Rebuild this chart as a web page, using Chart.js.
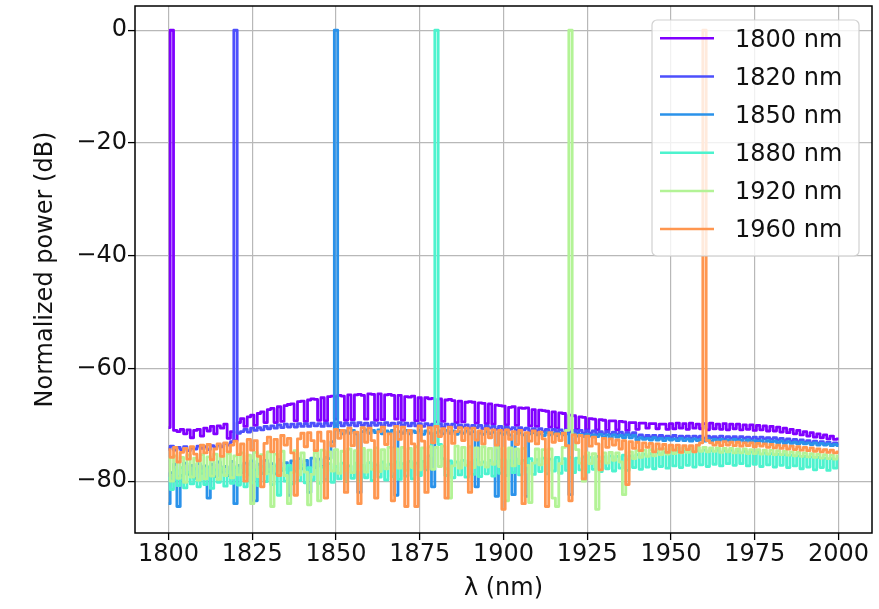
<!DOCTYPE html>
<html><head><meta charset="utf-8">
<script src="https://cdn.jsdelivr.net/npm/chart.js@4.4.1/dist/chart.umd.min.js"></script>
<style>html,body{margin:0;padding:0;background:#fff;}#wrap{width:879px;height:609px;}</style>
</head><body><div id="wrap"><canvas id="c" width="879" height="609"></canvas></div>
<script>
const wavelengths = [
1800,1801,1802,1803,1804,1805,1806,1807,1808,1809,
1810,1811,1812,1813,1814,1815,1816,1817,1818,1819,
1820,1821,1822,1823,1824,1825,1826,1827,1828,1829,
1830,1831,1832,1833,1834,1835,1836,1837,1838,1839,
1840,1841,1842,1843,1844,1845,1846,1847,1848,1849,
1850,1851,1852,1853,1854,1855,1856,1857,1858,1859,
1860,1861,1862,1863,1864,1865,1866,1867,1868,1869,
1870,1871,1872,1873,1874,1875,1876,1877,1878,1879,
1880,1881,1882,1883,1884,1885,1886,1887,1888,1889,
1890,1891,1892,1893,1894,1895,1896,1897,1898,1899,
1900,1901,1902,1903,1904,1905,1906,1907,1908,1909,
1910,1911,1912,1913,1914,1915,1916,1917,1918,1919,
1920,1921,1922,1923,1924,1925,1926,1927,1928,1929,
1930,1931,1932,1933,1934,1935,1936,1937,1938,1939,
1940,1941,1942,1943,1944,1945,1946,1947,1948,1949,
1950,1951,1952,1953,1954,1955,1956,1957,1958,1959,
1960,1961,1962,1963,1964,1965,1966,1967,1968,1969,
1970,1971,1972,1973,1974,1975,1976,1977,1978,1979,
1980,1981,1982,1983,1984,1985,1986,1987,1988,1989,
1990,1991,1992,1993,1994,1995,1996,1997,1998,1999,
2000];

const seriesLabels = ['1800 nm','1820 nm','1850 nm','1880 nm','1920 nm','1960 nm'];

const power1800 = [
-70.5,0,-71.0,-71.2,-70.8,-71.6,-70.9,-72.3,-71.0,-70.8,
-72.0,-70.6,-71.1,-70.3,-71.6,-70.2,-70.6,-69.9,-72.4,-71.2,
-72.8,-69.6,-68.9,-70.3,-68.6,-68.3,-70.1,-68.0,-67.7,-69.6,
-67.3,-67.1,-69.6,-66.8,-69.4,-66.6,-66.4,-66.3,-69.3,-65.9,
-65.8,-69.4,-65.6,-65.4,-65.5,-69.2,-65.2,-69.3,-65.0,-64.9,
-69.0,-64.8,-64.9,-69.2,-64.7,-69.1,-64.7,-64.6,-64.8,-69.0,
-64.5,-64.6,-69.2,-64.5,-69.1,-64.7,-64.6,-64.8,-69.0,-64.8,
-69.2,-65.0,-65.1,-64.9,-69.3,-65.2,-69.2,-65.2,-65.4,-65.3,
-69.5,-65.4,-69.4,-65.6,-65.5,-65.7,-69.6,-65.8,-69.5,-66.0,
-65.9,-66.0,-69.7,-66.1,-66.2,-69.8,-66.3,-69.9,-66.5,-66.6,
-66.7,-70.0,-66.9,-66.8,-70.1,-67.0,-67.1,-67.0,-70.2,-67.3,
-70.3,-67.4,-67.5,-67.6,-70.4,-67.7,-70.6,-67.9,-68.0,-71.2,
-68.3,-68.4,-70.8,-68.6,-68.7,-70.9,-68.9,-69.0,-70.9,-69.1,
-69.2,-71.0,-69.3,-69.3,-70.9,-69.4,-69.5,-71.0,-69.6,-69.6,
-70.8,-69.7,-69.7,-70.6,-69.8,-69.8,-70.7,-69.9,-69.9,-70.8,
-69.8,-70.7,-69.7,-70.6,-69.8,-70.8,-69.7,-70.6,-69.9,-70.7,
-69.8,-70.9,-69.7,-70.7,-69.9,-70.8,-69.8,-70.9,-69.9,-70.7,
-69.9,-70.9,-70.0,-70.8,-70.0,-71.0,-70.1,-70.9,-70.2,-71.1,
-70.3,-71.1,-70.4,-71.3,-70.6,-71.4,-70.8,-71.6,-71.0,-71.8,
-71.2,-72.0,-71.4,-72.2,-71.6,-72.3,-71.8,-72.5,-72.0,-72.6,
-72.5];

const power1820 = [
-74.3,-73.8,-74.5,-74.0,-74.4,-73.9,-74.6,-74.1,-74.3,-73.8,
-74.2,-73.9,-74.4,-73.7,-74.0,-73.6,-73.9,-73.3,-73.6,-73.0,
0,-71.5,-71.2,-70.8,-71.3,-70.6,-71.0,-70.5,-70.9,-70.3,
-70.7,-70.2,-70.6,-70.0,-70.5,-69.9,-70.4,-69.9,-70.4,-69.8,
-70.3,-69.8,-70.3,-69.7,-70.2,-69.8,-70.3,-69.7,-70.2,-69.7,
-70.2,-69.6,-70.2,-69.7,-70.1,-69.6,-70.2,-69.6,-70.1,-69.7,
-70.2,-69.6,-70.1,-69.7,-70.2,-69.6,-70.1,-69.7,-70.2,-69.6,
-70.1,-69.7,-70.2,-69.7,-70.2,-69.8,-70.3,-69.8,-70.2,-69.9,
-70.3,-69.8,-70.4,-69.9,-70.3,-69.9,-70.5,-70.0,-70.4,-70.0,
-70.6,-70.1,-70.5,-70.1,-70.7,-70.2,-70.6,-70.3,-70.8,-70.3,
-70.9,-70.4,-70.8,-70.5,-71.0,-70.5,-70.9,-70.6,-71.1,-70.7,
-71.1,-70.7,-71.2,-70.8,-71.3,-70.8,-71.2,-70.9,-71.4,-70.9,
-71.3,-71.0,-71.4,-71.0,-71.5,-71.1,-71.5,-71.1,-71.6,-71.2,
-71.6,-71.2,-71.7,-71.3,-71.7,-71.3,-71.8,-71.4,-71.8,-71.4,
-72.2,-71.8,-72.3,-71.9,-72.2,-71.9,-72.3,-71.9,-72.3,-72.0,
-72.3,-71.9,-72.4,-72.0,-72.3,-72.0,-72.4,-72.0,-72.3,-72.0,
-72.4,-72.0,-72.3,-72.1,-72.4,-72.0,-72.5,-72.1,-72.4,-72.1,
-72.5,-72.1,-72.4,-72.2,-72.5,-72.2,-72.6,-72.2,-72.5,-72.3,
-72.6,-72.3,-72.7,-72.4,-72.8,-72.5,-72.9,-72.6,-73.0,-72.7,
-73.1,-72.8,-73.2,-72.9,-73.3,-73.0,-73.4,-73.1,-73.5,-73.2,
-73.4];

const power1850 = [
-84.0,-78.5,-77.0,-84.5,-79.0,-76.8,-78.8,-77.2,-79.5,-76.9,
-78.6,-77.3,-83.0,-77.0,-79.2,-76.6,-78.4,-77.4,-79.0,-76.5,
-84.0,-77.2,-78.5,-76.8,-78.9,-76.4,-83.5,-77.0,-78.6,-76.3,
-78.3,-76.9,-78.7,-76.2,-78.1,-76.7,-82.5,-76.4,-78.2,-76.0,
-77.8,-76.3,-82.0,-75.9,-77.6,-76.1,-77.4,-75.8,-76.0,-73.0,
0,-71.0,-71.6,-71.1,-71.5,-71.0,-71.6,-82.0,-71.2,-70.9,
-71.5,-71.0,-71.4,-70.9,-71.6,-71.1,-71.4,-71.0,-82.5,-71.2,
-71.5,-71.0,-71.6,-71.1,-71.4,-71.0,-71.7,-71.1,-71.5,-81.0,
-71.4,-71.1,-71.6,-71.0,-71.5,-71.1,-71.7,-71.2,-71.5,-71.1,
-71.6,-71.2,-81.0,-71.3,-71.7,-71.2,-71.6,-71.3,-82.7,-71.4,
-71.7,-71.3,-71.8,-82.4,-71.5,-71.4,-71.8,-82.7,-71.6,-71.4,
-71.8,-71.5,-71.9,-71.4,-71.8,-71.5,-71.9,-71.5,-71.8,-71.6,
-82.4,-71.6,-72.0,-71.7,-72.1,-71.7,-72.0,-71.8,-72.1,-71.7,
-72.2,-71.8,-72.3,-71.8,-72.2,-71.9,-72.3,-71.8,-72.3,-71.9,
-72.7,-72.3,-72.6,-72.4,-72.7,-72.3,-72.7,-72.4,-72.8,-72.4,
-72.7,-72.5,-72.8,-72.4,-72.8,-72.5,-72.9,-72.5,-72.8,-72.6,
-72.9,-72.5,-72.9,-72.6,-73.0,-72.6,-72.9,-72.7,-73.0,-72.6,
-73.0,-72.7,-73.1,-72.7,-73.0,-72.8,-73.1,-72.8,-73.2,-72.8,
-73.1,-72.9,-73.2,-72.9,-73.3,-73.0,-73.3,-73.1,-73.4,-73.1,
-73.4,-73.2,-73.5,-73.2,-73.6,-73.3,-73.6,-73.4,-73.7,-73.5,
-73.7];

const power1880 = [
-79.5,-81.5,-78.0,-80.8,-77.6,-81.2,-78.4,-80.5,-77.8,-81.0,
-78.2,-80.6,-77.5,-81.3,-78.0,-80.2,-77.7,-80.9,-78.3,-80.4,
-77.6,-80.7,-78.1,-81.0,-77.5,-80.3,-78.0,-80.8,-77.4,-80.1,
-77.9,-80.6,-77.3,-82.5,-77.8,-80.0,-77.2,-80.5,-77.7,-79.9,
-77.1,-80.3,-77.6,-79.8,-77.0,-80.4,-77.5,-79.7,-76.9,-80.2,
-77.4,-79.6,-76.8,-80.1,-77.3,-79.5,-76.8,-80.0,-77.2,-79.4,
-76.7,-79.9,-77.1,-79.3,-76.6,-79.8,-77.0,-79.2,-76.6,-79.7,
-76.9,-79.1,-76.5,-79.6,-76.8,-79.0,-76.5,-78.0,-75.5,-73.0,
0,-73.5,-76.0,-79.0,-76.4,-79.4,-76.6,-78.9,-76.3,-79.3,
-76.7,-78.8,-76.2,-79.2,-76.6,-78.7,-76.3,-79.1,-76.5,-78.6,
-76.2,-79.0,-76.4,-78.5,-76.1,-78.9,-76.3,-78.4,-76.0,-78.8,
-76.2,-78.3,-75.9,-78.7,-76.1,-78.2,-75.8,-78.6,-76.0,-78.1,
-75.8,-78.5,-75.9,-78.0,-75.7,-78.4,-75.8,-77.9,-75.6,-78.3,
-75.7,-77.8,-75.5,-78.2,-75.6,-77.7,-75.4,-78.1,-75.5,-77.6,
-75.3,-77.9,-75.2,-77.5,-75.1,-77.8,-75.0,-77.4,-74.9,-77.7,
-74.8,-77.3,-74.7,-77.6,-74.7,-77.2,-74.6,-77.5,-74.6,-77.1,
-74.5,-77.4,-74.6,-77.0,-74.5,-77.3,-74.6,-76.9,-74.5,-77.2,
-74.6,-76.9,-74.7,-77.3,-74.8,-77.0,-74.9,-77.4,-75.0,-77.1,
-75.1,-77.5,-75.2,-77.2,-75.3,-77.6,-75.4,-77.3,-75.5,-77.8,
-75.6,-77.5,-75.7,-78.0,-75.8,-77.6,-75.9,-78.1,-76.0,-77.7,
-76.2];

const power1920 = [
-76.0,-80.0,-75.5,-79.5,-75.8,-80.2,-75.4,-79.3,-75.9,-79.8,
-75.3,-79.6,-75.7,-79.1,-75.2,-79.7,-75.6,-79.0,-75.1,-79.4,
-75.5,-78.9,-75.0,-79.3,-75.4,-84.0,-74.9,-79.2,-75.3,-78.7,
-74.8,-84.5,-75.2,-78.6,-74.7,-79.0,-84.0,-78.5,-74.6,-78.9,
-75.0,-78.4,-84.2,-78.8,-74.9,-83.5,-74.5,-78.7,-74.8,-78.2,
-74.4,-78.6,-74.7,-78.1,-74.3,-78.5,-74.6,-78.0,-74.2,-78.4,
-74.5,-77.9,-74.1,-78.3,-74.4,-77.8,-74.0,-78.2,-74.3,-77.7,
-74.0,-78.1,-74.2,-77.6,-73.9,-78.0,-74.1,-77.5,-73.9,-77.9,
-74.0,-77.4,-73.8,-77.8,-83.0,-77.3,-73.8,-77.7,-74.0,-77.2,
-73.9,-77.6,-74.1,-77.1,-73.9,-77.5,-74.2,-77.0,-74.0,-77.4,
-74.2,-83.5,-74.1,-77.3,-74.3,-76.9,-74.2,-77.2,-83.8,-76.8,
-74.3,-77.1,-74.4,-76.7,-74.3,-83.0,-84.5,-76.9,-74.0,-71.0,
0,-72.0,-74.4,-76.8,-80.0,-75.0,-76.9,-75.1,-85.0,-76.5,
-75.0,-76.8,-74.9,-76.3,-75.0,-76.6,-82.4,-76.2,-74.8,-76.0,
-74.6,-75.8,-74.5,-75.6,-74.4,-75.5,-74.4,-75.3,-74.3,-75.2,
-74.2,-75.1,-74.2,-75.0,-74.1,-74.9,-74.1,-74.8,-74.0,-74.7,
-74.0,-74.8,-74.1,-74.7,-74.1,-74.9,-74.2,-74.8,-74.2,-75.0,
-74.3,-75.0,-74.3,-75.1,-74.4,-75.1,-74.4,-75.2,-74.5,-75.2,
-74.5,-75.3,-74.6,-75.3,-74.7,-75.4,-74.8,-75.5,-74.9,-75.6,
-75.0,-75.7,-75.1,-75.8,-75.2,-75.9,-75.3,-76.0,-75.4,-76.1,
-75.5];

const power1960 = [
-74.4,-75.8,-74.0,-76.6,-74.9,-74.2,-76.1,-73.9,-75.2,-76.4,
-73.6,-75.0,-73.5,-76.2,-74.3,-73.4,-75.6,-73.2,-74.8,-73.6,
-72.9,-75.3,-73.4,-80.0,-72.6,-74.5,-72.8,-75.6,-81.0,-73.3,
-72.2,-74.8,-72.6,-79.0,-71.9,-73.6,-72.4,-75.0,-82.5,-72.5,
-71.5,-73.9,-71.4,-72.8,-74.6,-71.3,-72.9,-83.0,-71.2,-73.8,
-70.8,-72.4,-71.0,-82.0,-70.6,-73.7,-71.3,-84.0,-70.5,-73.1,
-70.6,-72.8,-83.0,-71.2,-70.4,-73.5,-71.6,-83.5,-70.3,-72.6,
-70.4,-84.5,-71.0,-73.4,-84.5,-70.2,-72.9,-82.0,-70.5,-73.2,
-70.3,-72.1,-70.7,-83.0,-70.4,-73.3,-71.2,-70.5,-72.8,-70.6,
-82.0,-70.6,-72.7,-71.1,-73.4,-70.7,-72.3,-70.9,-73.6,-71.0,
-85.0,-70.9,-72.6,-71.2,-73.5,-71.0,-84.0,-71.4,-72.9,-71.1,
-73.4,-71.3,-72.5,-84.5,-71.4,-73.1,-71.6,-72.8,-71.5,-73.7,
-83.5,-71.8,-73.2,-71.9,-79.6,-72.0,-73.8,-72.2,-73.4,-78.0,
-72.4,-74.0,-72.5,-73.6,-72.7,-74.3,-72.8,-80.6,-73.0,-74.2,
-73.1,-74.6,-73.2,-74.0,-73.3,-74.8,-73.4,-74.3,-73.5,-74.9,
-73.6,-74.5,-73.6,-74.9,-73.7,-74.4,-73.7,-74.8,-73.6,-73.2,
0,-72.8,-73.2,-73.6,-73.1,-73.7,-73.0,-73.6,-73.1,-73.7,
-73.1,-73.8,-73.2,-73.7,-73.2,-73.9,-73.3,-73.8,-73.4,-74.0,
-73.5,-74.1,-73.6,-74.2,-73.7,-74.3,-73.8,-74.4,-73.9,-74.5,
-74.0,-74.6,-74.1,-74.7,-74.3,-74.8,-74.4,-74.9,-74.5,-75.0,
-74.8];

const xTicks = [1800, 1825, 1850, 1875, 1900, 1925, 1950, 1975, 2000];
const yTicks = [-80, -60, -40, -20, 0];

const seriesValues = [power1800, power1820, power1850, power1880, power1920, power1960];
const lineColors = ['#8000ff', '#4d4ffc', '#2a92ea', '#4df3ce', '#b3f396', '#ff964f'];

const FONT = "'DejaVu Sans', 'Liberation Sans', sans-serif";
Chart.defaults.font.family = FONT;
Chart.defaults.color = '#111';

const datasets = seriesValues.map((vals, i) => ({
  label: seriesLabels[i],
  data: vals.map((v, j) => ({x: wavelengths[j], y: v})),
  borderColor: lineColors[i],
  backgroundColor: lineColors[i],
  borderWidth: 2.8,
  pointRadius: 0,
  stepped: 'middle',
  fill: false,
  borderJoinStyle: 'round',
  order: seriesValues.length - i
}));

const framePlugin = {
  id: 'frame',
  afterDatasetsDraw(chart) {
    const {ctx, chartArea: a} = chart;
    ctx.save();
    ctx.strokeStyle = '#000';
    ctx.lineWidth = 1.5;
    ctx.strokeRect(a.left, a.top, a.right - a.left, a.bottom - a.top);
    ctx.restore();
  }
};

const boxLegend = {
  id: 'boxLegend',
  afterDraw(chart) {
    const {ctx, chartArea: a} = chart;
    const w = 207, h = 236, r = 5;
    const x0 = a.right - 13 - w, y0 = a.top + 14;
    ctx.save();
    ctx.beginPath();
    ctx.moveTo(x0 + r, y0);
    ctx.lineTo(x0 + w - r, y0);
    ctx.arcTo(x0 + w, y0, x0 + w, y0 + r, r);
    ctx.lineTo(x0 + w, y0 + h - r);
    ctx.arcTo(x0 + w, y0 + h, x0 + w - r, y0 + h, r);
    ctx.lineTo(x0 + r, y0 + h);
    ctx.arcTo(x0, y0 + h, x0, y0 + h - r, r);
    ctx.lineTo(x0, y0 + r);
    ctx.arcTo(x0, y0, x0 + r, y0, r);
    ctx.closePath();
    ctx.fillStyle = 'rgba(255,255,255,0.8)';
    ctx.fill();
    ctx.strokeStyle = 'rgba(204,204,204,0.9)';
    ctx.lineWidth = 1.2;
    ctx.stroke();
    chart.data.datasets.forEach((ds, i) => {
      const cy = y0 + 18.3 + i * 38.15;
      ctx.beginPath();
      ctx.moveTo(x0 + 8, cy);
      ctx.lineTo(x0 + 62, cy);
      ctx.strokeStyle = ds.borderColor;
      ctx.lineWidth = 2.5;
      ctx.stroke();
      ctx.font = '24px ' + FONT;
      ctx.fillStyle = '#111';
      ctx.textAlign = 'left';
      ctx.textBaseline = 'middle';
      ctx.fillText(ds.label, x0 + 83, cy + 2);
    });
    ctx.restore();
  }
};

const fmtMinus = v => (v < 0 ? '\u2212' + Math.abs(v) : String(v));

new Chart(document.getElementById('c'), {
  type: 'line',
  data: {datasets},
  options: {
    responsive: false,
    animation: false,
    devicePixelRatio: 1,
    layout: {padding: {left: 0, right: 7, top: 6, bottom: 0}},
    plugins: {legend: {display: false}, tooltip: {enabled: false}},
    scales: {
      x: {
        type: 'linear',
        min: 1790, max: 2010,
        afterFit(s) { s.height = 76; s.paddingLeft = 0; s.paddingRight = 0; },
        afterBuildTicks(s) { s.ticks = xTicks.map(v => ({value: v})); },
        border: {display: false},
        grid: {color: '#b8b8b8', lineWidth: 1.2, tickColor: '#000', tickLength: 7, tickWidth: 1.3},
        ticks: {font: {size: 24}, color: '#111', padding: 0, maxRotation: 0, autoSkip: false,
                callback: v => String(v)},
        title: {display: true, text: '\u03bb (nm)', font: {size: 24}, color: '#111',
                padding: {top: 0, bottom: 5.6}}
      },
      y: {
        type: 'linear',
        min: -89.2, max: 4.3,
        afterFit(s) { s.width = 135; s.paddingTop = 0; s.paddingBottom = 0; },
        afterBuildTicks(s) { s.ticks = yTicks.map(v => ({value: v})); },
        border: {display: false},
        grid: {color: '#b8b8b8', lineWidth: 1.2, tickColor: '#000', tickLength: 7, tickWidth: 1.3},
        ticks: {font: {size: 24}, color: '#111', padding: 1, callback: v => fmtMinus(v)},
        title: {display: true, text: 'Normalized power (dB)', font: {size: 24}, color: '#111',
                padding: {top: 31, bottom: 0}}
      }
    }
  },
  plugins: [framePlugin, boxLegend]
});
</script>
</body></html>
